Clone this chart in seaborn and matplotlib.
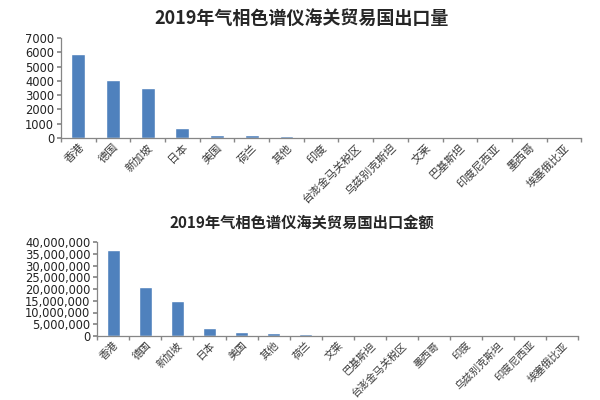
import matplotlib
matplotlib.use("Agg")
import matplotlib.pyplot as plt
import seaborn as sns
import pandas as pd
from matplotlib.ticker import FuncFormatter, FixedLocator, NullFormatter

sns.set_theme(style="white")
plt.rcParams['font.family'] = ['Noto Sans CJK SC', 'DejaVu Sans']

qty_countries = ["香港", "德国", "新加坡", "日本", "美国", "荷兰", "其他", "印度",
                 "台澎金马关税区", "乌兹别克斯坦", "文莱", "巴基斯坦", "印度尼西亚", "墨西哥", "埃塞俄比亚"]
qty_values = [5860, 4060, 3520, 720, 230, 180, 130, 10, 6, 5, 4, 3, 2, 2, 1]

amt_countries = ["香港", "德国", "新加坡", "日本", "美国", "其他", "荷兰", "文莱",
                 "巴基斯坦", "台澎金马关税区", "墨西哥", "印度", "乌兹别克斯坦", "印度尼西亚", "埃塞俄比亚"]
amt_values = [36600000, 21000000, 15100000, 3500000, 1500000, 1200000, 700000, 500000,
              200000, 120000, 90000, 70000, 50000, 40000, 30000]

title_qty = "2019年气相色谱仪海关贸易国出口量"
title_amt = "2019年气相色谱仪海关贸易国出口金额"

bar_color = "#4F81BD"
spine_color = "#868686"

fig = plt.figure(figsize=(6, 4), dpi=100)
ax1 = fig.add_axes([0.1017, 0.655, 0.867, 0.25])
ax2 = fig.add_axes([0.162, 0.16, 0.802, 0.235])

def style_axis(ax, cats, ymax, ystep, fmt, xsize):
    ax.set_xlim(-0.5, len(cats) - 0.5)
    ax.set_ylim(0, ymax)
    ax.set_yticks(range(0, ymax + 1, ystep))
    ax.yaxis.set_major_formatter(FuncFormatter(fmt))
    for s in ["top", "right"]:
        ax.spines[s].set_visible(False)
    for s in ["left", "bottom"]:
        ax.spines[s].set_color(spine_color)
        ax.spines[s].set_linewidth(0.9)
    ax.tick_params(axis="y", which="major", length=3, direction="out", color=spine_color,
                   labelsize=8.3, pad=2, left=True)
    ax.tick_params(axis="x", which="major", length=0, labelsize=xsize, pad=3)
    ax.xaxis.set_minor_locator(FixedLocator([i - 0.5 for i in range(len(cats) + 1)]))
    ax.xaxis.set_minor_formatter(NullFormatter())
    ax.tick_params(axis="x", which="minor", length=3, direction="out", color=spine_color, bottom=True)
    ax.set_xlabel("")
    ax.set_ylabel("")
    for lab in ax.get_xticklabels():
        lab.set_rotation(45)
        lab.set_ha("right")
        lab.set_rotation_mode("anchor")
        lab.set_color("#3a3a3a")
    for lab in ax.get_yticklabels():
        lab.set_family(["DejaVu Sans"])
        lab.set_color("#222222")

df1 = pd.DataFrame({"国家": qty_countries, "数量": qty_values})
sns.barplot(data=df1, x="国家", y="数量", color=bar_color, width=0.4, saturation=1, ax=ax1)
style_axis(ax1, qty_countries, 7000, 1000, lambda v, p: f"{int(v)}", 8)

df2 = pd.DataFrame({"国家": amt_countries, "金额": amt_values})
sns.barplot(data=df2, x="国家", y="金额", color=bar_color, width=0.42, saturation=1, ax=ax2)
style_axis(ax2, amt_countries, 40000000, 5000000, lambda v, p: f"{int(v):,}", 7.5)

fig.text(0.502, 0.955, title_qty, ha="center", va="center", fontsize=13, fontweight="bold")
fig.text(0.503, 0.4425, title_amt, ha="center", va="center", fontsize=11, fontweight="bold")

fig.savefig("out.png", dpi=100, facecolor="white")
